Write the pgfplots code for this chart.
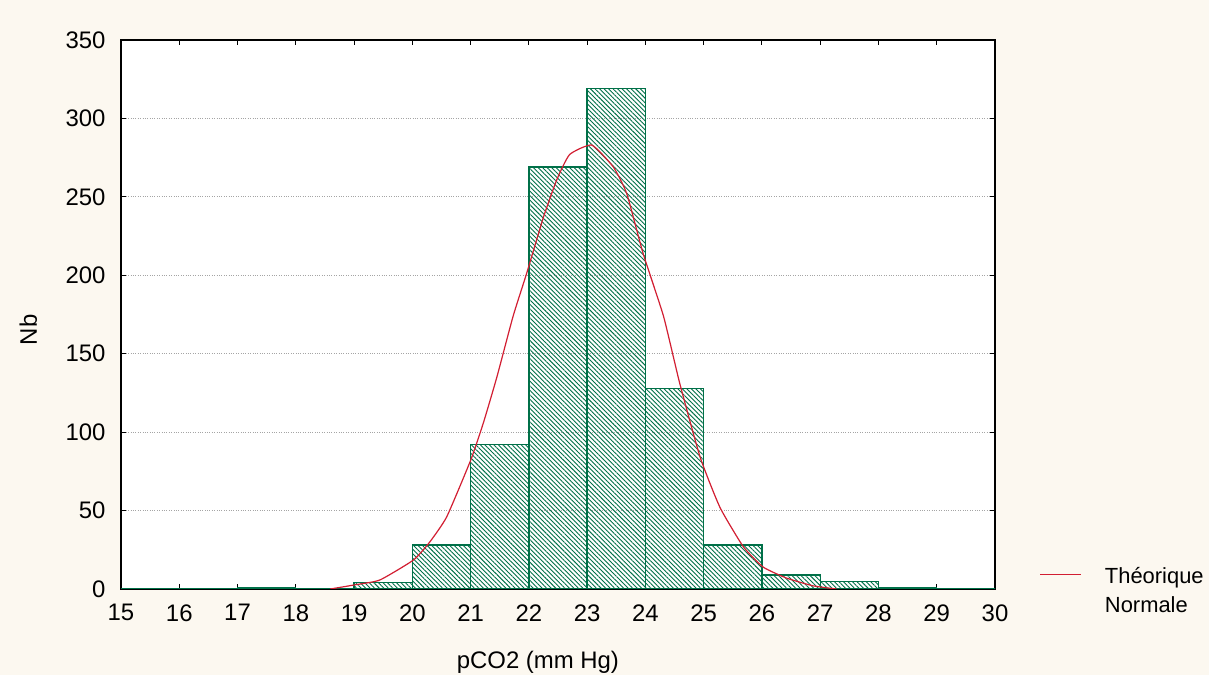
\documentclass[border=0pt]{standalone}
\usepackage{fontspec}
\setmainfont{Liberation Sans}
\usepackage{pgfplots}
\pgfplotsset{compat=1.18}
\usetikzlibrary{patterns.meta}
\definecolor{bggray}{RGB}{252,248,240}
\definecolor{bargreen}{RGB}{0,112,72}
\definecolor{curvered}{RGB}{210,30,50}
\definecolor{gridgray}{RGB}{165,165,165}
\begin{document}
\begin{tikzpicture}
\fill[bggray] (0,0) rectangle (1209bp,675bp);
\useasboundingbox (0,0) rectangle (1209bp,675bp);
\begin{axis}[
  at={(121bp,86bp)}, anchor=south west,
  scale only axis, width=874bp, height=549bp,
  xmin=15, xmax=30, ymin=0, ymax=350,
  xtick={15,16,...,30}, ytick={0,50,...,350},
  tick align=inside, major tick length=5bp,
  tick style={black, line width=0.9bp},
  axis line style={black, line width=1.3bp},
  axis background/.style={fill=white},
  ymajorgrids, grid style={gridgray, dotted, line width=0.9bp},
  /pgf/number format/assume math mode=true,
  tick label style={font=\fontsize{24}{28}\selectfont},
  yticklabel style={xshift=-12bp},
  xticklabel style={yshift=-12bp},
  label style={font=\fontsize{24}{28}\selectfont},
  xlabel={pCO2 (mm Hg)},
  xlabel style={at={(axis description cs:0.477,-0.133)}, anchor=center},
  ylabel={Nb},
  ylabel style={at={(axis description cs:-0.106,0.472)}, anchor=center},
  legend style={draw=none, fill=none, at={(axis description cs:1.051,0.05)}, anchor=north west,
    font=\fontsize{22}{28}\selectfont, inner sep=0pt, cells={anchor=west},
    /tikz/every odd column/.append style={column sep=21bp}},
  legend image code/.code={\draw[#1] (0bp,0bp) -- (41bp,0bp);},
]
\addplot[ybar interval, draw=bargreen, line width=1.3bp,
  pattern={Lines[angle=-45,distance=3.2bp,line width=0.9bp]}, pattern color=bargreen, forget plot]
coordinates {
(15,0) (16,0) (17,1) (18,0) (19,4) (20,28) (21,92) (22,269) (23,319) (24,128) (25,28) (26,9) (27,5) (28,1) (29,0) (30,0)
};
\addplot[curvered, line width=1.2bp, smooth, tension=0.3]
coordinates {
(18.59,0) (18.99,2.5) (19.44,5.7) (20.02,18.5) (20.30,30) (20.59,46) (21.0,82) (21.22,106) (21.45,135) (21.73,174) (21.96,201) (22.25,237) (22.48,261) (22.70,277) (23.08,283) (23.45,269) (23.68,252) (23.96,214) (24.31,174) (24.59,131) (24.94,84) (25.28,52) (25.68,27) (26.02,14) (26.42,7) (26.88,2) (27.28,0)
};
\addlegendentry{\begin{tabular}[t]{@{}l@{}}Théorique\\[1bp]Normale\end{tabular}}
\end{axis}
\end{tikzpicture}
\end{document}
